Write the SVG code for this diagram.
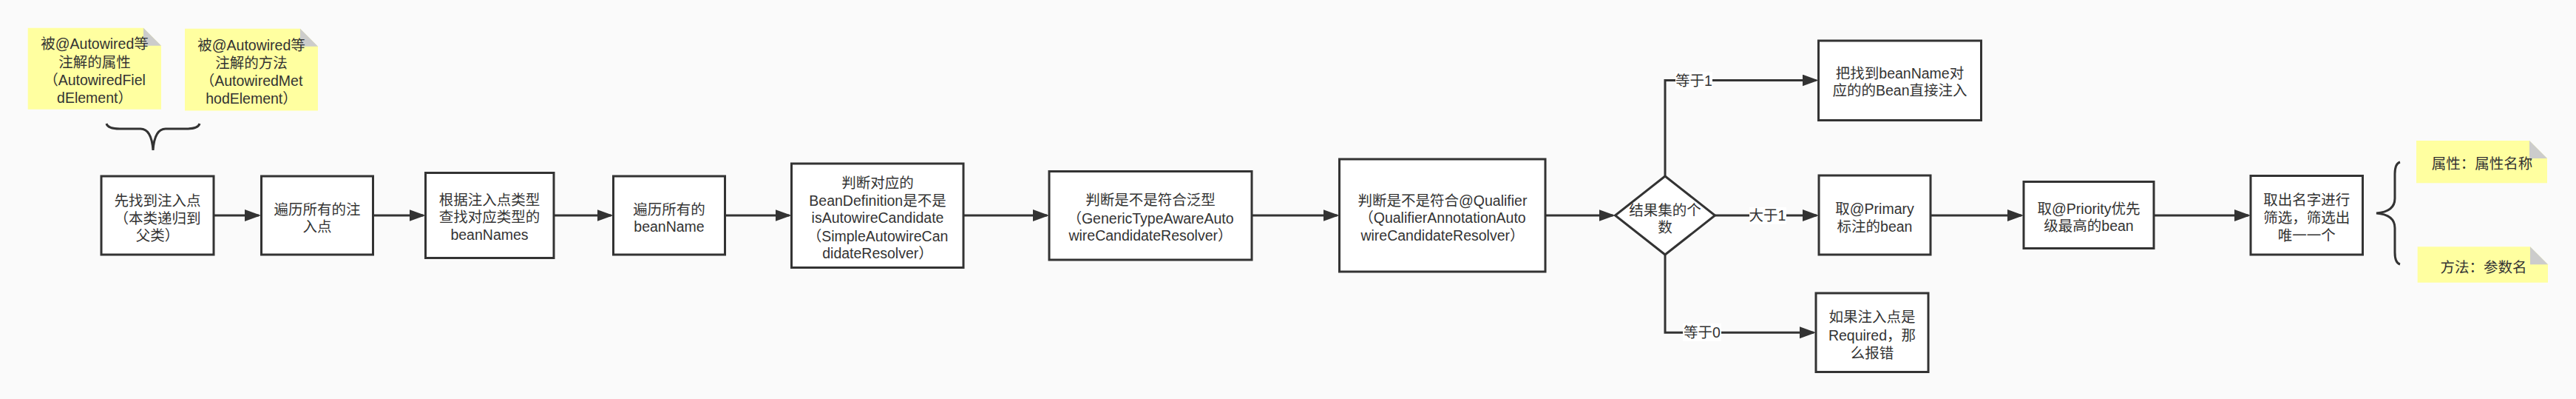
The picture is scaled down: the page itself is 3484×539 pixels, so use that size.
<svg xmlns="http://www.w3.org/2000/svg" width="3484" height="539" viewBox="0 0 3484 539">
<style>
.bg{fill:#fafafa}
.box{fill:#ffffff;stroke:#333333;stroke-width:3}
.note{fill:#ffffa0}
.fold{fill:#cccccc}
.t{font-family:"Liberation Sans","Noto Sans CJK SC",sans-serif;font-size:19.5px;fill:#333333;text-anchor:middle}
.edge{fill:none;stroke:#333333;stroke-width:3}
.lbl{fill:#ffffff}
.brace{fill:none;stroke:#333333;stroke-width:3}
</style>
<defs>
<marker id="arr" markerUnits="userSpaceOnUse" markerWidth="24" markerHeight="18" refX="19" refY="8" orient="auto">
<path d="M0,0 L22,8 L0,16 Z" fill="#333333"/>
</marker>
</defs>
<rect class="bg" x="0" y="0" width="3484" height="539"/>

<g id="connectors">
<path class="edge" d="M289,291 L350,291" marker-end="url(#arr)"/>
<path class="edge" d="M504.5,291 L572.5,291" marker-end="url(#arr)"/>
<path class="edge" d="M749,291 L826.5,291" marker-end="url(#arr)"/>
<path class="edge" d="M980.5,291 L1067.5,291" marker-end="url(#arr)"/>
<path class="edge" d="M1303,291 L1416,291" marker-end="url(#arr)"/>
<path class="edge" d="M1693,291 L1808.5,291" marker-end="url(#arr)"/>
<path class="edge" d="M2090,291 L2181.5,291" marker-end="url(#arr)"/>
<path class="edge" d="M2252,238 L2252,108.5 L2456.5,108.5" marker-end="url(#arr)"/>
<path class="edge" d="M2319.5,291 L2457,291" marker-end="url(#arr)"/>
<path class="edge" d="M2252,344 L2252,449.3 L2453,449.3" marker-end="url(#arr)"/>
<path class="edge" d="M2611,291 L2734,291" marker-end="url(#arr)"/>
<path class="edge" d="M2913,291 L3041,291" marker-end="url(#arr)"/>
<rect class="lbl" x="2266" y="97" width="50" height="24"/>
<text class="t" x="2291" y="116">等于1</text>
<rect class="lbl" x="2366" y="280" width="50" height="23"/>
<text class="t" x="2390.5" y="298">大于1</text>
<rect class="lbl" x="2276" y="437" width="52" height="24"/>
<text class="t" x="2302" y="456">等于0</text>
</g>

<g id="note1">
<polygon class="note" points="37.7,37.8 194,37.8 218,61.8 218,147.8 37.7,147.8"/>
<polygon class="fold" points="194,37.8 218,61.8 194,61.8"/>
<text class="t" x="128" y="66">被@Autowired等</text>
<text class="t" x="128" y="90.5">注解的属性</text>
<text class="t" x="128" y="114.6">（AutowiredFiel</text>
<text class="t" x="128" y="138.7">dElement）</text>
</g>
<g id="note2">
<polygon class="note" points="250,38.8 406,38.8 430,62.8 430,149.5 250,149.5"/>
<polygon class="fold" points="406,38.8 430,62.8 406,62.8"/>
<text class="t" x="340" y="68.2">被@Autowired等</text>
<text class="t" x="340" y="92.3">注解的方法</text>
<text class="t" x="340" y="116.3">（AutowiredMet</text>
<text class="t" x="340" y="140.4">hodElement）</text>
</g>
<g id="brace1">
<path class="brace" d="M144,167 Q146,174 162,174 L190,174 Q205,174 207,203 Q209,174 224,174 L252,174 Q268,174 270,167"/>
</g>

<g id="n1"><rect class="box" x="137" y="238" width="152" height="106"/>
<text class="t" x="213" y="278">先找到注入点</text>
<text class="t" x="213" y="301.5">（本类递归到</text>
<text class="t" x="213" y="325">父类）</text></g>

<g id="n2"><rect class="box" x="353.5" y="238" width="151" height="106"/>
<text class="t" x="429" y="290">遍历所有的注</text>
<text class="t" x="429" y="313">入点</text></g>

<g id="n3"><rect class="box" x="575.5" y="233.5" width="173.5" height="115"/>
<text class="t" x="662" y="277">根据注入点类型</text>
<text class="t" x="662" y="300.3">查找对应类型的</text>
<text class="t" x="662" y="323.7">beanNames</text></g>

<g id="n4"><rect class="box" x="829.5" y="238" width="151" height="106"/>
<text class="t" x="905" y="290.3">遍历所有的</text>
<text class="t" x="905" y="313">beanName</text></g>

<g id="n5"><rect class="box" x="1070.5" y="221" width="232.5" height="140.5"/>
<text class="t" x="1187" y="253.7">判断对应的</text>
<text class="t" x="1187" y="277.7">BeanDefinition是不是</text>
<text class="t" x="1187" y="301.3">isAutowireCandidate</text>
<text class="t" x="1187" y="325.7">（SimpleAutowireCan</text>
<text class="t" x="1187" y="349.3">didateResolver）</text></g>

<g id="n6"><rect class="box" x="1419" y="231.5" width="274" height="119.5"/>
<text class="t" x="1556" y="277">判断是不是符合泛型</text>
<text class="t" x="1556" y="302">（GenericTypeAwareAuto</text>
<text class="t" x="1556" y="325.3">wireCandidateResolver）</text></g>

<g id="n7"><rect class="box" x="1811.5" y="215" width="278.5" height="152"/>
<text class="t" x="1951" y="277.5">判断是不是符合@Qualifier</text>
<text class="t" x="1951" y="301">（QualifierAnnotationAuto</text>
<text class="t" x="1951" y="325">wireCandidateResolver）</text></g>

<g id="decision"><polygon class="box" points="2252,238 2319.5,291 2252,344 2184.5,291"/>
<text class="t" x="2252" y="290.6">结果集的个</text>
<text class="t" x="2252" y="314">数</text></g>

<g id="n8"><rect class="box" x="2459.5" y="55" width="220" height="107.5"/>
<text class="t" x="2569.5" y="106.3">把找到beanName对</text>
<text class="t" x="2569.5" y="128.7">应的的Bean直接注入</text></g>

<g id="n9"><rect class="box" x="2460" y="237" width="151" height="107"/>
<text class="t" x="2535.5" y="289">取@Primary</text>
<text class="t" x="2535.5" y="313">标注的bean</text></g>

<g id="n10"><rect class="box" x="2456" y="396" width="152" height="106.5"/>
<text class="t" x="2532" y="435.3">如果注入点是</text>
<text class="t" x="2532" y="459.7">Required，那</text>
<text class="t" x="2532" y="483.7">么报错</text></g>

<g id="n11"><rect class="box" x="2737" y="245.5" width="176" height="90"/>
<text class="t" x="2825" y="288.7">取@Priority优先</text>
<text class="t" x="2825" y="312">级最高的bean</text></g>

<g id="n12"><rect class="box" x="3044" y="237.5" width="151.5" height="106.5"/>
<text class="t" x="3119.75" y="277">取出名字进行</text>
<text class="t" x="3119.75" y="301.3">筛选，筛选出</text>
<text class="t" x="3119.75" y="324.7">唯一一个</text></g>

<g id="brace2">
<path class="brace" d="M3246,219 Q3239,221 3239,235 L3239,268 Q3239,286 3214,288 Q3239,290 3239,308 L3239,341 Q3239,355 3246,357"/>
</g>
<g id="note3">
<polygon class="note" points="3268,190 3421,190 3445,214 3445,247.3 3268,247.3"/>
<polygon class="fold" points="3421,190 3445,214 3421,214"/>
<text class="t" x="3357" y="228">属性：属性名称</text>
</g>
<g id="note4">
<polygon class="note" points="3269.7,333.3 3422,333.3 3446,357.3 3446,381.7 3269.7,381.7"/>
<polygon class="fold" points="3422,333.3 3446,357.3 3422,357.3"/>
<text class="t" x="3359" y="367.7">方法：参数名</text>
</g>
</svg>
